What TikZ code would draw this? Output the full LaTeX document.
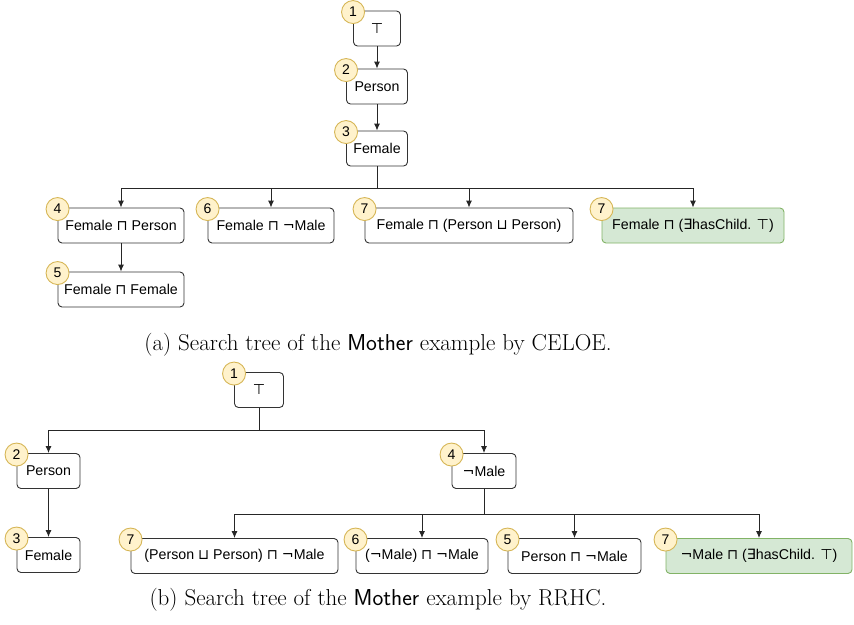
\documentclass[tikz,border=0pt]{standalone}
\usepackage{fix-cm}
\usepackage{fontspec}
\usetikzlibrary{arrows.meta,positioning}
\newfontfamily\boxfont{Liberation Sans}
\newfontfamily\symfont{DejaVu Sans}
\newcommand{\conj}{{\symfont ⊓}}
\newcommand{\disj}{{\symfont ⊔}}
\newcommand{\negt}{{\symfont ¬}}
\newcommand{\exst}{{\symfont ∃}}
\newcommand{\topc}{{\symfont ⊤}}
\definecolor{badgefill}{HTML}{FFF2CC}
\definecolor{badgeline}{HTML}{D6B656}
\definecolor{goalfill}{HTML}{D5E8D4}
\definecolor{goalline}{HTML}{82B366}

\tikzset{
  concept/.style={draw=black!80, fill=white, rounded corners=4pt, line width=0.9pt,
    minimum height=35pt, inner xsep=0pt, font=\boxfont\fontsize{14.2}{17}\selectfont},
  goal/.style={concept, fill=goalfill, draw=goalline},
  badge/.style={circle, draw=badgeline, fill=badgefill, line width=0.9pt,
    minimum size=23pt, inner sep=0pt, font=\boxfont\fontsize{14}{16}\selectfont},
  arr/.style={-{Latex[length=7pt,width=6pt]}, line width=0.9pt, black!85},
  capt/.style={font=\fontsize{23}{27}\selectfont},
}

\begin{document}
\begin{tikzpicture}[x=1pt,y=-1pt]
            \useasboundingbox (0,0) rectangle (854,624);
            % (a) CELOE
            \node[concept, minimum width=47pt] (a1) at (377,28.5) {\topc};
            \node[concept, minimum width=61pt] (a2) at (377,86.5) {Person};
            \node[concept, minimum width=61pt] (a3) at (377,148.5) {Female};
            \node[concept, minimum width=126pt] (a4) at (121,225.5) {Female \conj{} Person};
            \node[concept, minimum width=126pt] (a6) at (271,225.5) {Female \conj{} \negt{}Male};
            \node[concept, minimum width=208pt] (a7) at (469,225.5) {Female \conj{} (Person \disj{} Person)};
            \node[goal, minimum width=182pt] (a8) at (693,225.5) {Female \conj{} (\exst{}hasChild. \topc)};
            \node[concept, minimum width=126pt] (a5) at (121,289.5) {Female \conj{} Female};
            \draw[arr] (a1.south) -- (a2.north);
            \draw[arr] (a2.south) -- (a3.north);
            \foreach \c in {a4,a6,a7,a8}
              \draw[arr] (a3.south) -- ++(0,22) -| (\c.north);
            \draw[arr] (a4.south) -- (a5.north);
            \node[badge] (ba1) at ([yshift=-1.5pt]a1.north west) {1};
            \node[badge] (ba2) at ([yshift=-1.5pt]a2.north west) {2};
            \node[badge] (ba3) at ([yshift=-1.5pt]a3.north west) {3};
            \node[badge] (ba4) at ([yshift=-1.5pt]a4.north west) {4};
            \node[badge] (ba6) at ([yshift=-1.5pt]a6.north west) {6};
            \node[badge] (ba7) at ([yshift=-1.5pt]a7.north west) {7};
            \node[badge] (ba8) at ([yshift=-1.5pt]a8.north west) {7};
            \node[badge] (ba5) at ([yshift=-1.5pt]a5.north west) {5};
            \node[capt] (capa) at (378,345) {(a) Search tree of the \textsf{Mother} example by CELOE.};
            % (b) RRHC
            \node[concept, minimum width=49pt] (b1) at (259,390) {\topc};
            \node[concept, minimum width=63pt] (b2) at (48.5,471) {Person};
            \node[concept, minimum width=63pt] (b3) at (48.5,555) {Female};
            \node[concept, minimum width=64pt] (b4) at (484,471) {\negt{}Male};
            \node[concept, minimum width=207pt] (b7a) at (234.5,556) {(Person \disj{} Person) \conj{} \negt{}Male};
            \node[concept, minimum width=132pt] (b6) at (422,556) {(\negt{}Male) \conj{} \negt{}Male};
            \node[concept, minimum width=133pt] (b5) at (574.5,556) {Person \conj{} \negt{}Male};
            \node[goal, minimum width=186pt] (b7b) at (759,556) {\negt{}Male \conj{} (\exst{}hasChild. \topc)};
            \foreach \c in {b2,b4}
              \draw[arr] (b1.south) -- ++(0,22.5) -| (\c.north);
            \draw[arr] (b2.south) -- (b3.north);
            \foreach \c in {b7a,b6,b5,b7b}
              \draw[arr] (b4.south) -- ++(0,25.5) -| (\c.north);
            \node[badge] (bb1) at ([yshift=-1.5pt]b1.north west) {1};
            \node[badge] (bb2) at ([yshift=-1.5pt]b2.north west) {2};
            \node[badge] (bb3) at ([yshift=-1.5pt]b3.north west) {3};
            \node[badge] (bb4) at ([yshift=-1.5pt]b4.north west) {4};
            \node[badge] (bb7a) at ([yshift=-1.5pt]b7a.north west) {7};
            \node[badge] (bb6) at ([yshift=-1.5pt]b6.north west) {6};
            \node[badge] (bb5) at ([yshift=-1.5pt]b5.north west) {5};
            \node[badge] (bb7b) at ([yshift=-1.5pt]b7b.north west) {7};
            \node[capt] (capb) at (378,600) {(b) Search tree of the \textsf{Mother} example by RRHC.};
        \end{tikzpicture}
\end{document}
